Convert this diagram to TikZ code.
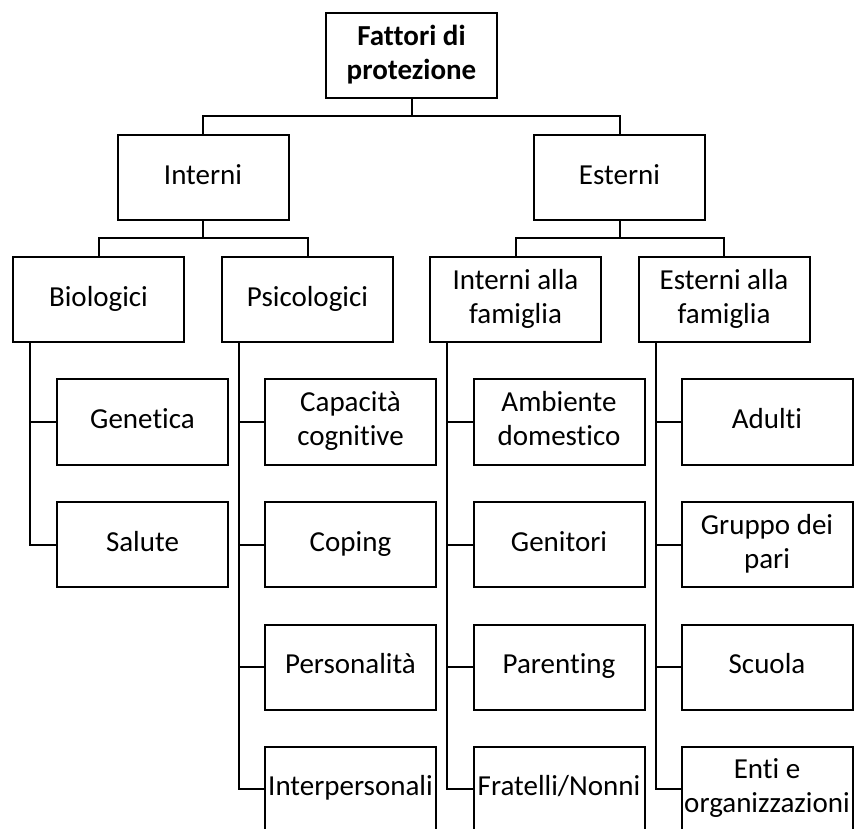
\documentclass[tikz,border=0pt]{standalone}
\usepackage{fontspec}
\setmainfont{Carlito}[Ligatures=NoCommon]
\begin{document}
\begin{tikzpicture}[x=1pt,y=-1pt,
  box/.style={draw,line width=2pt,minimum width=171pt,minimum height=85pt,
    inner sep=0pt,outer sep=0pt,align=center,font=\fontsize{29}{34}\selectfont},
  link/.style={line width=2pt}]
\useasboundingbox (0,0) rectangle (855,829);
\fill[white] (0,0) rectangle (855,829);
\clip (0,0) rectangle (855,829);

% top levels
\node[box,font=\fontsize{29}{34}\selectfont\bfseries] (root) at (411.5,55.5) {Fattori di\strut\\protezione\strut};
\node[box] (int) at (203,178) {Interni\strut};
\node[box] (est) at (619.5,178) {Esterni\strut};

\node[box] (bio) at (98.5,300) {Biologici\strut};
\node[box] (psi) at (307.5,300) {Psicologici\strut};
\node[box] (ifam) at (515.5,300) {Interni alla\strut\\famiglia\strut};
\node[box] (efam) at (724,300) {Esterni alla\strut\\famiglia\strut};

% leaves
\node[box] (gen) at (142.5,422) {Genetica\strut};
\node[box] (sal) at (142.5,544.5) {Salute\strut};

\node[box] (cap) at (350.5,422) {Capacità\strut\\cognitive\strut};
\node[box] (cop) at (350.5,544.5) {Coping\strut};
\node[box] (per) at (350.5,667) {Personalità\strut};
\node[box] (ipe) at (350.5,789) {Interpersonali\strut};

\node[box] (amb) at (559,422) {Ambiente\strut\\domestico\strut};
\node[box] (gtr) at (559,544.5) {Genitori\strut};
\node[box] (par) at (559,667) {Parenting\strut};
\node[box] (fra) at (559,789) {Fratelli/Nonni\strut};

\node[box] (adu) at (767,422) {Adulti\strut};
\node[box] (gru) at (767,544.5) {Gruppo dei\strut\\pari\strut};
\node[box] (scu) at (767,667) {Scuola\strut};
\node[box] (ent) at (767,789) {Enti e\strut\\organizzazioni\strut};

% forks
\draw[link] (root.south) -- ++(0,18) -| (int.north);
\draw[link] (root.south) -- ++(0,18) -| (est.north);
\draw[link] (int.south) -- ++(0,18) -| (bio.north);
\draw[link] (int.south) -- ++(0,18) -| (psi.north);
\draw[link] (est.south) -- ++(0,18) -| (ifam.north);
\draw[link] (est.south) -- ++(0,18) -| (efam.north);

% rails
\foreach \p/\c in {bio/gen,bio/sal,psi/cap,psi/cop,psi/per,psi/ipe,
                   ifam/amb,ifam/gtr,ifam/par,ifam/fra,
                   efam/adu,efam/gru,efam/scu,efam/ent}
  \draw[link] ([xshift=17pt]\p.south west) |- (\c.west);
\end{tikzpicture}
\end{document}
